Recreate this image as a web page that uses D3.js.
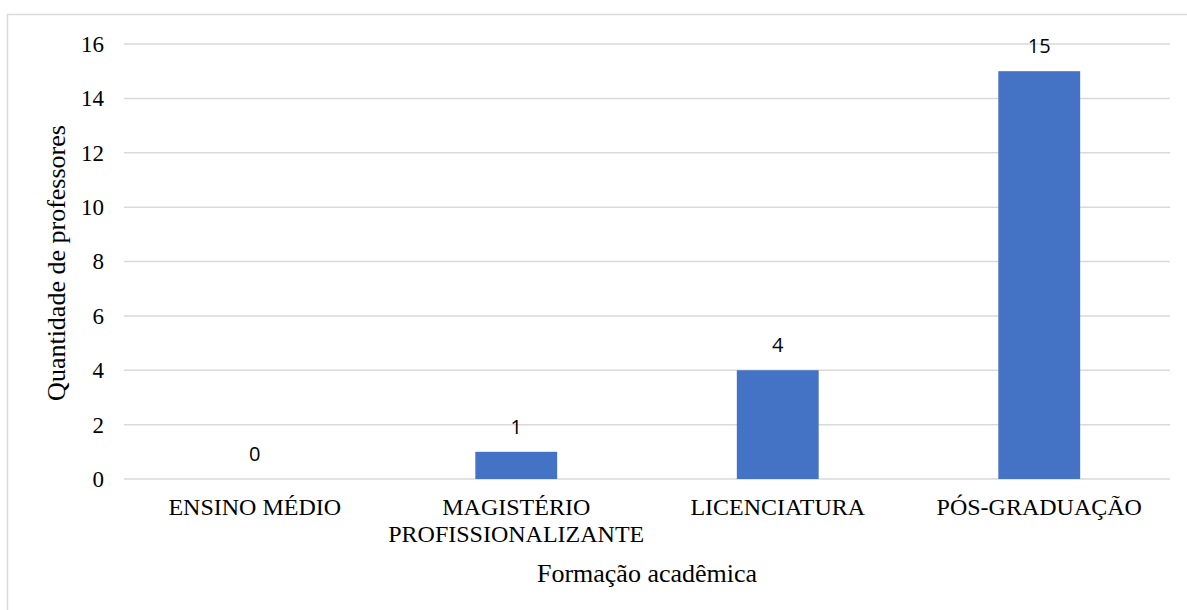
<!DOCTYPE html>
<html>
<head>
<meta charset="utf-8">
<script src="https://cdn.jsdelivr.net/npm/d3@7"></script>
<style>
  html, body { margin: 0; padding: 0; background: #fff; }
  svg { display: block; }
  .serif { font-family: "Liberation Serif", "Times New Roman", serif; }
  .sans { font-family: "Open Sans", "Liberation Sans", sans-serif; }
</style>
</head>
<body>
<svg id="chart" width="1187" height="610"></svg>
<script>
// Data: academic background of teachers
const categories = [
  ["ENSINO MÉDIO"],
  ["MAGISTÉRIO", "PROFISSIONALIZANTE"],
  ["LICENCIATURA"],
  ["PÓS-GRADUAÇÃO"]
];
const values = [0, 1, 4, 15];
const yTicks = [0, 2, 4, 6, 8, 10, 12, 14, 16];
const xTitle = "Formação acadêmica";
const yTitle = "Quantidade de professores";

const svg = d3.select("#chart");

// Chart frame
svg.append("rect")
  .attr("x", 7.5).attr("y", 14.5)
  .attr("width", 1300).attr("height", 700)
  .attr("fill", "#fff")
  .attr("stroke", "#d9d9d9").attr("stroke-width", 1.5);

const plot = { left: 124, right: 1170, top: 44, bottom: 479 };

const x = d3.scaleBand()
  .domain(d3.range(categories.length))
  .range([plot.left, plot.right])
  .paddingInner(0.687)
  .paddingOuter(0.3435);

const y = d3.scaleLinear()
  .domain([0, 16])
  .range([plot.bottom, plot.top]);

// Gridlines
svg.append("g")
  .selectAll("line")
  .data(yTicks)
  .join("line")
  .attr("x1", plot.left).attr("x2", plot.right)
  .attr("y1", d => y(d)).attr("y2", d => y(d))
  .attr("stroke", "#d9d9d9").attr("stroke-width", 1.5);

// Y axis tick labels
const yAxis = d3.axisLeft(y).tickValues(yTicks).tickSize(0).tickPadding(0);
svg.append("g")
  .attr("transform", `translate(${plot.left - 20},0)`)
  .call(yAxis)
  .call(g => g.select(".domain").remove())
  .call(g => g.attr("font-family", null).attr("font-size", null))
  .selectAll("text")
  .attr("class", "serif")
  .style("font-size", "23px")
  .attr("fill", "#000");

// Bars
svg.append("g")
  .selectAll("rect")
  .data(values)
  .join("rect")
  .attr("x", (d, i) => x(i))
  .attr("width", x.bandwidth())
  .attr("y", d => y(d))
  .attr("height", d => y(0) - y(d))
  .attr("fill", "#4472c4");

// Value labels
svg.append("g")
  .selectAll("text")
  .data(values)
  .join("text")
  .attr("class", "sans")
  .attr("x", (d, i) => x(i) + x.bandwidth() / 2)
  .attr("y", d => y(d) - 18)
  .attr("text-anchor", "middle")
  .style("font-size", "20px")
  .attr("fill", "#000")
  .text(d => d);

// Category labels
const catG = svg.append("g")
  .selectAll("text")
  .data(categories)
  .join("text")
  .attr("class", "serif")
  .attr("text-anchor", "middle")
  .style("font-size", "24px")
  .attr("fill", "#000");
catG.each(function (lines, i) {
  const t = d3.select(this);
  lines.forEach((ln, k) => {
    t.append("tspan")
      .attr("x", x(i) + x.bandwidth() / 2)
      .attr("y", 515 + k * 27)
      .text(ln);
  });
});

// Axis titles
svg.append("text")
  .attr("class", "serif")
  .attr("x", (plot.left + plot.right) / 2)
  .attr("y", 582)
  .attr("text-anchor", "middle")
  .style("font-size", "26px")
  .attr("fill", "#000")
  .text(xTitle);

svg.append("text")
  .attr("class", "serif")
  .attr("transform", `translate(65,263) rotate(-90)`)
  .attr("text-anchor", "middle")
  .style("font-size", "26px")
  .attr("fill", "#000")
  .text(yTitle);
</script>
</body>
</html>
